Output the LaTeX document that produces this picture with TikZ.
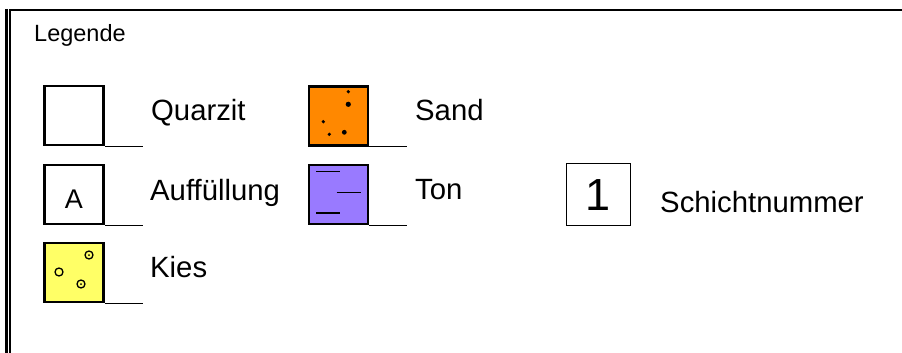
\documentclass[tikz,border=0pt]{standalone}
\usepackage{fontspec}
\setmainfont{Liberation Sans}
\definecolor{sandor}{RGB}{255,136,0}
\definecolor{kiesye}{RGB}{255,255,102}
\definecolor{tonvi}{RGB}{153,122,255}
\begin{document}
\begin{tikzpicture}[x=1pt,y=-1pt,
  legbox/.style={draw=black,line width=2.8pt,minimum width=59pt,minimum height=59pt,inner sep=0pt},
  numbox/.style={draw=black,line width=1pt,minimum width=64pt,minimum height=62pt,inner sep=0pt},
  tick/.style={line width=1.1pt},
  lbl/.style={anchor=base west,inner sep=0pt,font=\fontsize{29.3}{35}\selectfont},
  grain/.style={line width=1.3pt}]
\useasboundingbox (0,0) rectangle (902,353);
% frame: top rule and double left rule
\draw[line width=2.5pt] (9,10) -- (902,10);
\draw[line width=3pt] (6.5,9) -- (6.5,353);
\draw[line width=1.5pt] (9.8,10) -- (9.8,353);
\node[anchor=base west,inner sep=0pt,font=\fontsize{23.5}{28}\selectfont] (title) at (34,42) {Legende};

% symbol boxes
\node[legbox] (quarz) at (74,115.5) {};
\node[legbox] (fill) at (74,194.5) {};
\node[legbox,fill=kiesye] (kies) at (74,272.5) {};
\node[legbox,fill=sandor] (sand) at (338.5,116) {};
\node[legbox,fill=tonvi] (ton) at (338.5,194.5) {};
\node[numbox] (num) at (598.5,194.5) {};

% underlines
\foreach \b in {quarz,fill,kies,sand,ton}
  \draw[tick] (\b.south east) -- ++(38,0);

% box contents
\node[anchor=base,inner sep=0pt,font=\fontsize{27}{32}\selectfont] (fillA) at (74,208) {A};
\node[anchor=base,inner sep=0pt,font=\fontsize{45}{50}\selectfont] (numone) at (598.5,210) {1};

% sand grains
\fill (348.3,91.7) circle (1.8);
\fill (348.3,104.3) circle (2.6);
\fill (323.3,121.7) circle (1.8);
\fill (329.3,134.3) circle (1.8);
\fill (344.3,132.3) circle (2.4);

% clay strokes
\draw[line width=1.1pt] (316,171.3) -- (340,171.3);
\draw[line width=1.1pt] (336.7,192.7) -- (360.7,192.7);
\draw[line width=1.1pt] (316,213) -- (340,213);

% gravel pebbles
\draw[grain] (59,272) circle (4);
\draw[grain] (89,255) circle (4);
\fill (89,255) circle (1);
\draw[grain] (81,284) circle (4);
\fill (81,284) circle (1);

% labels
\node[lbl] (tq) at (151,120) {Quarzit};
\node[lbl] (tf) at (150,200) {Auffüllung};
\node[lbl] (tk) at (150,277) {Kies};
\node[lbl] (ts) at (415,120) {Sand};
\node[lbl] (tt) at (415,199) {Ton};
\node[lbl] (tn) at (660,212) {Schichtnummer};
\end{tikzpicture}
\end{document}
